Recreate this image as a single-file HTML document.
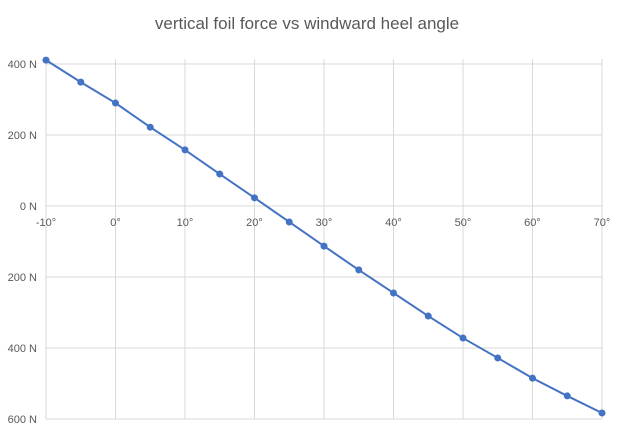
<!DOCTYPE html>
<html><head><meta charset="utf-8"><style>
body{margin:0;background:#fff;font-family:"Liberation Sans",sans-serif}
</style></head><body>
<svg id="c" width="623" height="434" xmlns="http://www.w3.org/2000/svg">
<text x="307" y="29" text-anchor="middle" font-size="17" fill="#595959" font-family="Liberation Sans, sans-serif">vertical foil force vs windward heel angle</text>
<g id="grid"></g><g id="labels"></g><g id="series"></g>
</svg>
<script>
const angles=[-10,-5,0,5,10,15,20,25,30,35,40,45,50,55,60,65,70];
const forces=[411,349,290,222,158,90,23,-45,-113,-180,-245,-310,-372,-428,-485,-535,-583];
const xTicks=[-10,0,10,20,30,40,50,60,70];
const yTicks=[400,200,0,-200,-400,-600];
const yTickLabels=["400 N","200 N","0 N","200 N","400 N","600 N"];
const ns="http://www.w3.org/2000/svg";
const X=v=>46+(v+10)*(556/80);
const Y=v=>206-v*0.355;
function mk(t,a,p){const e=document.createElementNS(ns,t);for(const k in a)e.setAttribute(k,a[k]);p.appendChild(e);return e;}
const g=document.getElementById('grid'),l=document.getElementById('labels'),s=document.getElementById('series');
yTicks.forEach((v,i)=>{
 const ln=mk('line',{x1:46,x2:602,y1:Y(v),y2:Y(v),stroke:'#d9d9d9','stroke-width':1},g);
 
 
 const t=mk('text',{x:37,y:Y(v)+4,'text-anchor':'end','font-size':11,fill:'#595959'},l);
 t.textContent=yTickLabels[i];
 
 
});
xTicks.forEach(v=>{
 const ln=mk('line',{x1:X(v),x2:X(v),y1:Y(400)-5,y2:Y(-600),stroke:'#d9d9d9','stroke-width':1},g);
 
 
 const t=mk('text',{x:X(v),y:226,'text-anchor':'middle','font-size':11,fill:'#595959'},l);
 t.textContent=v+'°';
 
 
});
const pl=mk('polyline',{points:angles.map((a,i)=>X(a)+','+Y(forces[i])).join(' '),fill:'none',stroke:'#4472c4','stroke-width':2},s);


angles.forEach((a,i)=>{
 const c=mk('circle',{cx:X(a),cy:Y(forces[i]),r:3.5,fill:'#4472c4'},s);
 
 
});
</script>
</body></html>
